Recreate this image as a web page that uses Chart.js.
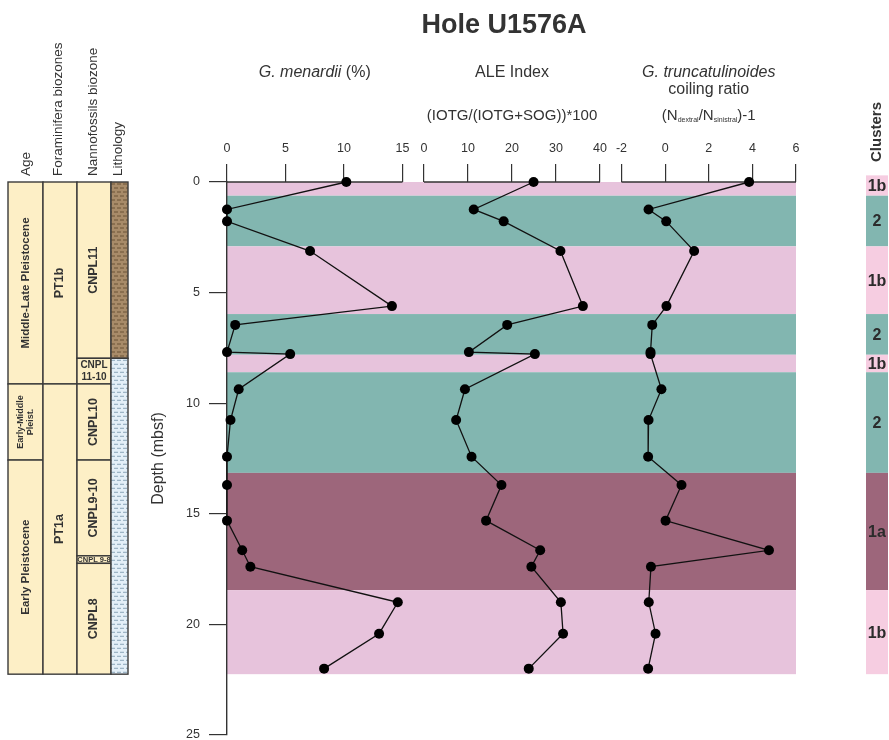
<!DOCTYPE html>
<html>
<head>
<meta charset="utf-8">
<title>Hole U1576A</title>
<script src="https://cdn.jsdelivr.net/npm/chart.js@4.4.1/dist/chart.umd.min.js"></script>
<style>
  html, body { margin: 0; padding: 0; background: #fff; }
  #wrap { width: 889px; height: 740px; }
</style>
</head>
<body>
<div id="wrap"><canvas id="holeChart" width="889" height="740"></canvas></div>
<script>
// Sample depths (mbsf) and the three proxies measured at each depth
const depths = [0, 1.24, 1.78, 3.12, 5.61, 6.46, 7.69, 7.78, 9.37, 10.76, 12.42, 13.7, 15.31, 16.65, 17.39, 19.0, 20.42, 22.0];
const menardii = [10.2, 0, 0, 7.1, 14.1, 0.7, 0, 5.4, 1.0, 0.3, 0, 0, 0, 1.3, 2.0, 14.6, 13.0, 8.3];
const aleIndex = [24.9, 11.3, 18.1, 31.0, 36.1, 18.9, 10.2, 25.2, 9.3, 7.3, 10.8, 17.6, 14.1, 26.4, 24.4, 31.1, 31.6, 23.8];
const coilingRatio = [3.85, -0.76, 0.05, 1.33, 0.06, -0.59, -0.67, -0.67, -0.17, -0.76, -0.78, 0.75, 0.02, 4.76, -0.65, -0.75, -0.44, -0.78];

const menardiiTicks = [0, 5, 10, 15];
const aleTicks = [0, 10, 20, 30, 40];
const coilingTicks = [-2, 0, 2, 4, 6];
const depthTicks = [0, 5, 10, 15, 20, 25];

// Cluster intervals (depth top / bottom)
const clusterTops = [0, 0.62, 2.91, 5.97, 7.81, 8.6, 13.15, 18.45];
const clusterBottoms = [0.62, 2.91, 5.97, 7.81, 8.6, 13.15, 18.45, 22.25];
const clusterNames = ['1b', '2', '1b', '2', '1b', '2', '1a', '1b'];

// Stratigraphic column
const ageNames = ['Middle-Late Pleistocene', 'Early-Middle\nPleist.', 'Early Pleistocene'];
const ageTops = [0, 9.13, 12.57];
const ageBottoms = [9.13, 12.57, 22.25];
const foramNames = ['PT1b', 'PT1a'];
const foramTops = [0, 9.13];
const foramBottoms = [9.13, 22.25];
const nannoNames = ['CNPL11', 'CNPL\n11-10', 'CNPL10', 'CNPL9-10', 'CNPL 9-8', 'CNPL8'];
const nannoTops = [0, 7.97, 9.13, 12.57, 16.9, 17.24];
const nannoBottoms = [7.97, 9.13, 12.57, 16.9, 17.24, 22.25];
const lithNames = ['clay', 'ooze'];
const lithTops = [0, 7.97];
const lithBottoms = [7.97, 22.25];

const FONT = '"Liberation Sans", Arial, Helvetica, sans-serif';
const TEXT = '#333';
const bandColors = { '1a': '#9d667b', '1b': '#e7c3dc', '2': '#82b6b0' };
const clusterColors = { '1a': '#9d667b', '1b': '#f6cde1', '2': '#82b6b0' };
const labelSizes = { 'Early-Middle\nPleist.': 9, 'CNPL\n11-10': 10, 'CNPL 9-8': 7.5 };
const stratX = [8, 43, 77, 111, 128];

Chart.defaults.font.family = FONT;
Chart.defaults.color = TEXT;

function cellText(ctx, label, cx, cy, rotate, size) {
  const lines = label.split('\n');
  const lh = size * 1.15;
  ctx.save();
  ctx.translate(cx, cy);
  if (rotate) ctx.rotate(-Math.PI / 2);
  ctx.font = `bold ${size}px ${FONT}`;
  ctx.fillStyle = TEXT;
  ctx.textAlign = 'center';
  ctx.textBaseline = 'middle';
  lines.forEach((ln, i) => ctx.fillText(ln, 0, (i - (lines.length - 1) / 2) * lh));
  ctx.restore();
}

function hatch(ctx, x0, x1, y0, y1, bg, fg, step) {
  ctx.save();
  ctx.beginPath();
  ctx.rect(x0, y0, x1 - x0, y1 - y0);
  ctx.clip();
  ctx.fillStyle = bg;
  ctx.fillRect(x0, y0, x1 - x0, y1 - y0);
  ctx.strokeStyle = fg;
  ctx.lineWidth = 1;
  let row = 0;
  for (let yy = y0 + 2; yy < y1; yy += step, row++) {
    const off = (row % 2) * 3;
    ctx.beginPath();
    for (let xx = x0 - off; xx < x1; xx += 6) {
      ctx.moveTo(xx, yy);
      ctx.lineTo(xx + 4, yy);
    }
    ctx.stroke();
  }
  ctx.restore();
}

function stratColumn(ctx, y, col, names, tops, bottoms, defSize) {
  const x0 = stratX[col], x1 = stratX[col + 1];
  names.forEach((name, i) => {
    const t = y.getPixelForValue(tops[i]);
    const b = y.getPixelForValue(bottoms[i]);
    if (col === 3) {
      if (name === 'clay') hatch(ctx, x0, x1, t, b, '#a88b69', '#6a5236', 4);
      else hatch(ctx, x0, x1, t, b, '#e3eff8', '#8aa5b8', 4);
    } else {
      ctx.fillStyle = '#fdefc6';
      ctx.fillRect(x0, t, x1 - x0, b - t);
      const size = labelSizes[name] || defSize;
      cellText(ctx, name, (x0 + x1) / 2, (t + b) / 2, b - t > 45, size);
    }
    ctx.strokeStyle = '#3a3a3a';
    ctx.lineWidth = 1.4;
    ctx.strokeRect(x0, t, x1 - x0, b - t);
  });
}

function richText(ctx, parts, cx, baseline) {
  let total = 0;
  parts.forEach(p => { ctx.font = p.f; p.w = ctx.measureText(p.t).width; total += p.w; });
  let x = cx - total / 2;
  ctx.textAlign = 'left';
  ctx.textBaseline = 'alphabetic';
  ctx.fillStyle = TEXT;
  parts.forEach(p => { ctx.font = p.f; ctx.fillText(p.t, x, baseline + (p.dy || 0)); x += p.w; });
}

function upText(ctx, text, x, yBottom, font) {
  ctx.save();
  ctx.translate(x, yBottom);
  ctx.rotate(-Math.PI / 2);
  ctx.font = font;
  ctx.fillStyle = TEXT;
  ctx.textAlign = 'left';
  ctx.textBaseline = 'middle';
  ctx.fillText(text, 0, 0);
  ctx.restore();
}

const decor = {
  id: 'decor',
  beforeDraw(chart) {
    const { ctx, chartArea: a, scales: { y } } = chart;
    ctx.save();
    clusterNames.forEach((c, i) => {
      const t = y.getPixelForValue(clusterTops[i]);
      const b = y.getPixelForValue(clusterBottoms[i]);
      ctx.fillStyle = bandColors[c];
      ctx.fillRect(a.left, t, a.right - a.left, b - t);
    });
    stratColumn(ctx, y, 0, ageNames, ageTops, ageBottoms, 11.5);
    stratColumn(ctx, y, 1, foramNames, foramTops, foramBottoms, 12.5);
    stratColumn(ctx, y, 2, nannoNames, nannoTops, nannoBottoms, 12.5);
    stratColumn(ctx, y, 3, lithNames, lithTops, lithBottoms, 12);
    ctx.restore();
  },
  beforeDatasetsDraw(chart) {
    const { ctx, chartArea: a, scales } = chart;
    ctx.save();
    ctx.strokeStyle = TEXT;
    ctx.lineWidth = 1.3;
    [['xm', menardiiTicks], ['xa', aleTicks], ['xc', coilingTicks]].forEach(([id, tk]) => {
      const s = scales[id];
      ctx.beginPath();
      ctx.moveTo(s.getPixelForValue(tk[0]), a.top);
      ctx.lineTo(s.getPixelForValue(tk[tk.length - 1]), a.top);
      ctx.stroke();
    });
    ctx.restore();
  },
  afterDraw(chart) {
    const { ctx, scales } = chart;
    const y = scales.y;
    const mid = (id, tk) => (scales[id].getPixelForValue(tk[0]) + scales[id].getPixelForValue(tk[tk.length - 1])) / 2;
    const cm = mid('xm', menardiiTicks), ca = mid('xa', aleTicks), cc = mid('xc', coilingTicks);
    ctx.save();
    // main title
    richText(ctx, [{ t: 'Hole U1576A', f: `bold 27px ${FONT}` }], 504, 32.5);
    // panel titles
    const it16 = `italic 16px ${FONT}`, rg16 = `16px ${FONT}`, rg15 = `15px ${FONT}`, sub = `7px ${FONT}`;
    richText(ctx, [{ t: 'G. menardii', f: it16 }, { t: ' (%)', f: rg16 }], cm, 76.5);
    richText(ctx, [{ t: 'ALE Index', f: rg16 }], ca, 76.5);
    richText(ctx, [{ t: '(IOTG/(IOTG+SOG))*100', f: rg15 }], ca, 120);
    richText(ctx, [{ t: 'G. truncatulinoides', f: it16 }], cc, 76.5);
    richText(ctx, [{ t: 'coiling ratio', f: rg16 }], cc, 94);
    richText(ctx, [
      { t: '(N', f: rg15 }, { t: 'dextral', f: sub, dy: 2 }, { t: '/N', f: rg15 },
      { t: 'sinistral', f: sub, dy: 2 }, { t: ')-1', f: rg15 }
    ], cc, 120);
    // strat column headers
    const hf = `13.5px ${FONT}`;
    upText(ctx, 'Age', 26, 176, hf);
    upText(ctx, 'Foraminifera biozones', 58, 176, hf);
    upText(ctx, 'Nannofossils biozone', 93, 176, hf);
    upText(ctx, 'Lithology', 118, 176, hf);
    // clusters column
    upText(ctx, 'Clusters', 877, 162, `bold 15px ${FONT}`);
    clusterNames.forEach((c, i) => {
      const t = y.getPixelForValue(i === 0 ? -0.3 : clusterTops[i]);
      const b = y.getPixelForValue(clusterBottoms[i]);
      ctx.fillStyle = clusterColors[c];
      ctx.fillRect(866, t, 22, b - t);
    });
    clusterNames.forEach((c, i) => {
      const t = y.getPixelForValue(i === 0 ? -0.3 : clusterTops[i]);
      const b = y.getPixelForValue(clusterBottoms[i]);
      ctx.font = `bold 16px ${FONT}`;
      ctx.fillStyle = '#2b2b2b';
      ctx.textAlign = 'center';
      ctx.textBaseline = 'middle';
      ctx.fillText(c, 877, (t + b) / 2 + 1);
    });
    ctx.restore();
  }
};

function topAxis(min, max, ticks, stackWeight, weight) {
  return {
    type: 'linear',
    axis: 'x',
    position: 'top',
    stack: 'panels',
    stackWeight: stackWeight,
    weight: weight,
    min: min,
    max: max,
    afterBuildTicks: s => { s.ticks = ticks.map(v => ({ value: v })); },
    afterFit: s => { s.height = 82; s.paddingLeft = 0; s.paddingRight = 0; },
    grid: { drawOnChartArea: false, drawTicks: true, tickLength: 18, color: TEXT, lineWidth: 1.2 },
    border: { display: false },
    ticks: { padding: 8, color: TEXT, font: { size: 12.5 }, autoSkip: false, maxRotation: 0 }
  };
}

const pts = vals => vals.map((v, i) => ({ x: v, y: depths[i] }));
const lineStyle = {
  borderColor: '#111',
  borderWidth: 1.3,
  pointRadius: 5,
  pointHoverRadius: 5,
  pointBackgroundColor: '#000',
  pointBorderColor: '#000',
  pointBorderWidth: 0,
  showLine: true,
  tension: 0,
  clip: false
};

new Chart(document.getElementById('holeChart'), {
  type: 'scatter',
  data: {
    datasets: [
      { label: 'G. menardii (%)', data: pts(menardii), xAxisID: 'xm', yAxisID: 'y', ...lineStyle },
      { label: 'ALE Index', data: pts(aleIndex), xAxisID: 'xa', yAxisID: 'y', ...lineStyle },
      { label: 'G. truncatulinoides coiling ratio', data: pts(coilingRatio), xAxisID: 'xc', yAxisID: 'y', ...lineStyle }
    ]
  },
  options: {
    responsive: false,
    animation: false,
    layout: { padding: { left: 140, right: 93, top: 100, bottom: 5 } },
    plugins: { legend: { display: false }, tooltip: { enabled: false }, title: { display: false } },
    scales: {
      xm: topAxis(0, 15.9, menardiiTicks, 186, 3),
      xa: topAxis(-2.5, 42.4, aleTicks, 197.6, 2),
      xc: topAxis(-2.5, 6, coilingTicks, 185.4, 1),
      y: {
        type: 'linear',
        position: 'left',
        reverse: true,
        min: 0,
        max: 25,
        afterBuildTicks: s => { s.ticks = depthTicks.map(v => ({ value: v })); },
        afterFit: s => { s.width = 87; s.paddingTop = 0; s.paddingBottom = 0; },
        grid: { drawOnChartArea: false, drawTicks: true, tickLength: 18, color: TEXT, lineWidth: 1.2 },
        border: { display: true, color: TEXT, width: 1.4 },
        ticks: { padding: 9, color: TEXT, font: { size: 12.5 } },
        title: { display: true, text: 'Depth (mbsf)', color: TEXT, font: { size: 16 }, padding: { top: 9, bottom: 0 } }
      }
    }
  },
  plugins: [decor]
});
</script>
</body>
</html>
